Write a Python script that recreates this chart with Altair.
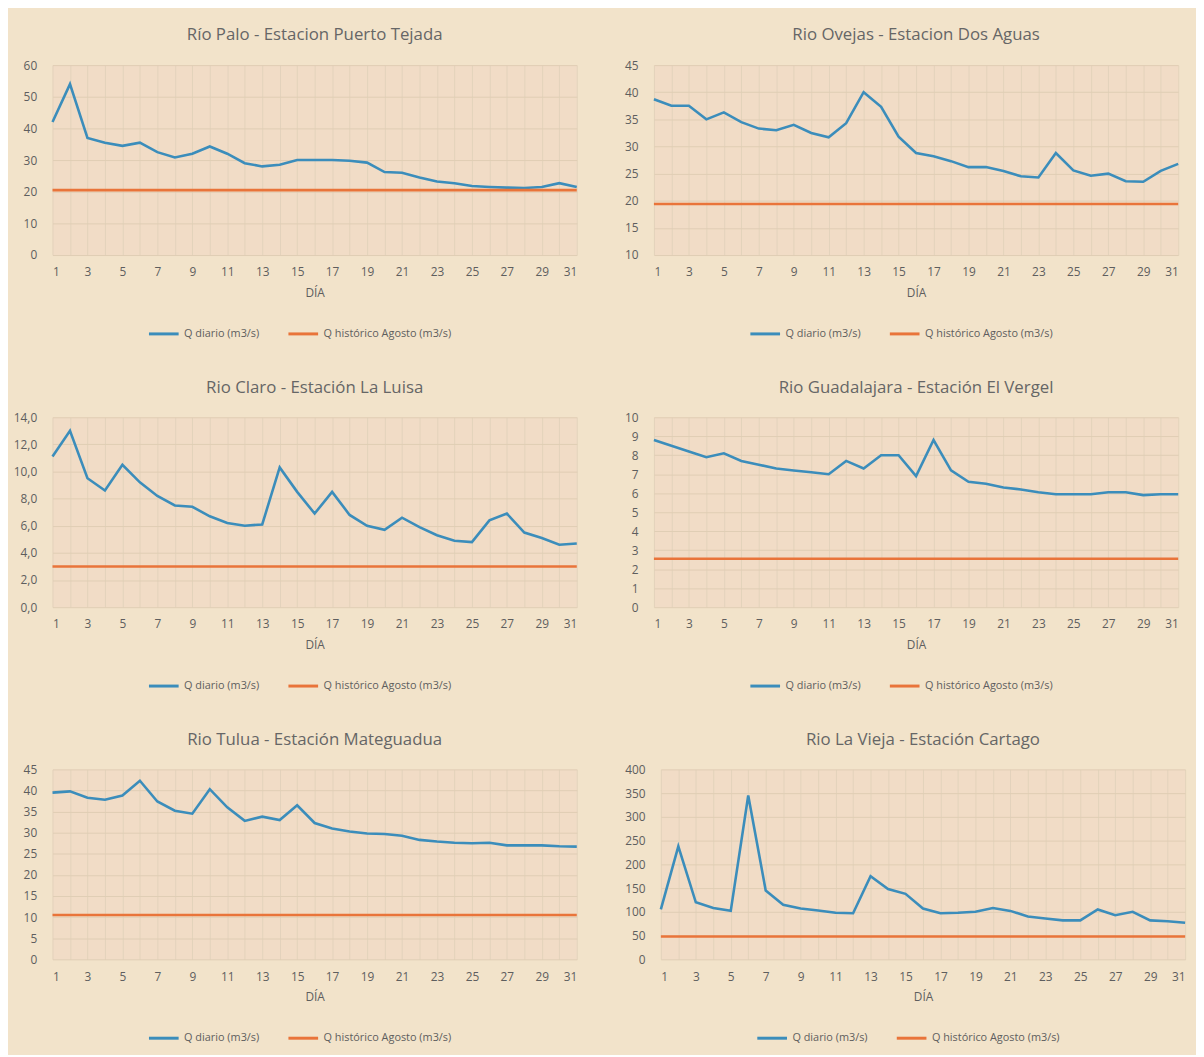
import altair as alt
import pandas as pd

days = list(range(1, 32))

titles = [
    "Río Palo - Estacion Puerto Tejada",
    "Rio Ovejas - Estacion Dos Aguas",
    "Rio Claro - Estación La Luisa",
    "Rio Guadalajara  - Estación El Vergel",
    "Rio Tulua - Estación Mateguadua",
    "Rio La Vieja - Estación Cartago",
]

q_palo = [42, 54, 37, 35.5, 34.5, 35.5, 32.5, 30.8, 32, 34.3, 32, 29, 28, 28.5, 30, 30,
          30, 29.8, 29.2, 26.2, 26, 24.5, 23.2, 22.7, 21.8, 21.5, 21.3, 21.2, 21.5, 22.7, 21.5]
h_palo = 20.5

q_ovejas = [38.7, 37.5, 37.5, 35, 36.3, 34.5, 33.3, 33, 34, 32.5, 31.7, 34.3, 40, 37.3, 31.8, 28.8,
            28.2, 27.3, 26.2, 26.2, 25.5, 24.5, 24.3, 28.8, 25.6, 24.6, 25, 23.6, 23.5, 25.5, 26.8]
h_ovejas = 19.4

q_claro = [11.1, 13, 9.5, 8.6, 10.5, 9.2, 8.2, 7.5, 7.4, 6.7, 6.2, 6.0, 6.1, 10.3, 8.5, 6.9,
           8.5, 6.8, 6.0, 5.7, 6.6, 5.9, 5.3, 4.9, 4.8, 6.4, 6.9, 5.5, 5.1, 4.6, 4.7]
h_claro = 3.0

q_guada = [8.8, 8.5, 8.2, 7.9, 8.1, 7.7, 7.5, 7.3, 7.2, 7.1, 7.0, 7.7, 7.3, 8.0, 8.0, 6.9,
           8.8, 7.2, 6.6, 6.5, 6.3, 6.2, 6.05, 5.95, 5.95, 5.95, 6.05, 6.05, 5.9, 5.95, 5.95]
h_guada = 2.55

q_tulua = [39.5, 39.8, 38.3, 37.8, 38.8, 42.3, 37.4, 35.2, 34.5, 40.3, 36.0, 32.8, 33.8, 33, 36.5, 32.3,
           31.0, 30.3, 29.8, 29.7, 29.3, 28.3, 27.9, 27.6, 27.5, 27.6, 27, 27, 27, 26.8, 26.7]
h_tulua = 10.5

q_vieja = [105, 238, 120, 108, 102, 345, 145, 115, 107, 103, 98, 97, 175, 148, 138, 107,
           97, 98, 100, 108, 102, 90, 86, 82, 82, 105, 93, 100, 82, 80, 77]
h_vieja = 48

series_names = ["Q diario (m3/s)", "Q histórico Agosto (m3/s)"]
series_colors = ["#3b8dbb", "#e9743a"]

y_domains = [(0, 60), (10, 45), (0, 14), (0, 10), (0, 45), (0, 400)]
y_steps = [10, 5, 2, 1, 5, 50]
y_comma = [False, False, True, False, False, False]

q_all = [q_palo, q_ovejas, q_claro, q_guada, q_tulua, q_vieja]
h_all = [h_palo, h_ovejas, h_claro, h_guada, h_tulua, h_vieja]

FONT = "Open Sans"
TXT = "#5e5e5e"
W, H = 530, 192


def panel(i):
    rows = []
    for d, v in zip(days, q_all[i]):
        rows.append({"DIA": d, "Q": v, "serie": series_names[0]})
    for d in days:
        rows.append({"DIA": d, "Q": h_all[i], "serie": series_names[1]})
    df = pd.DataFrame(rows)
    lo, hi = y_domains[i]
    step = y_steps[i]
    ticks = list(range(lo, hi + 1, step))
    if y_comma[i]:
        lab = "replace(format(datum.value, '.1f'), '.', ',')"
    else:
        lab = "format(datum.value, 'd')"
    return (
        alt.Chart(df)
        .mark_line(strokeWidth=2.6)
        .encode(
            x=alt.X(
                "DIA:Q",
                scale=alt.Scale(domain=[1, 31], nice=False, zero=False),
                axis=alt.Axis(
                    title="DÍA",
                    values=days,
                    labelExpr="datum.value % 2 == 1 ? datum.value : ''",
                    grid=True,
                    gridColor="#e3d2bb",
                    domain=False,
                    ticks=False,
                    labelPadding=12,
                    titlePadding=10,
                    labelFontSize=12,
                    titleFontSize=12,
                    titleFontWeight="normal",
                    labelColor=TXT,
                    titleColor=TXT,
                    labelFont=FONT,
                    titleFont=FONT,
                ),
            ),
            y=alt.Y(
                "Q:Q",
                scale=alt.Scale(domain=[lo, hi], nice=False, zero=False),
                axis=alt.Axis(
                    title=None,
                    values=ticks,
                    labelExpr=lab,
                    grid=True,
                    gridColor="#e0cdb4",
                    domain=False,
                    ticks=False,
                    labelPadding=16,
                    labelFontSize=12,
                    labelColor=TXT,
                    labelFont=FONT,
                ),
            ),
            color=alt.Color(
                "serie:N",
                scale=alt.Scale(domain=series_names, range=series_colors),
                legend=alt.Legend(
                    title=None,
                    orient="none",
                    legendX=96,
                    legendY=H + 63,
                    direction="horizontal",
                    symbolType="stroke",
                    symbolStrokeWidth=3,
                    symbolSize=900,
                    labelFontSize=11,
                    labelColor=TXT,
                    labelFont=FONT,
                    columnPadding=22,
                ),
            ),
        )
        .properties(
            width=W,
            height=H,
            title=alt.TitleParams(
                titles[i], fontSize=17, font=FONT, color="#666666",
                fontWeight="normal", offset=15, anchor="middle",
            ),
        )
    )


rows = []
for r in range(3):
    rows.append(
        alt.hconcat(panel(2 * r), panel(2 * r + 1), spacing=42)
        .resolve_scale(color="independent")
    )

chart = (
    alt.vconcat(*rows, spacing=39)
    .resolve_scale(color="independent")
    .properties(padding={"left": 5, "top": 13, "right": 5, "bottom": 5})
    .configure(background="#f2e3ca")
    .configure_view(fill="#f1dcc6", stroke=None)
)

chart.save("out.html", embed_options={"renderer": "svg", "actions": False})
